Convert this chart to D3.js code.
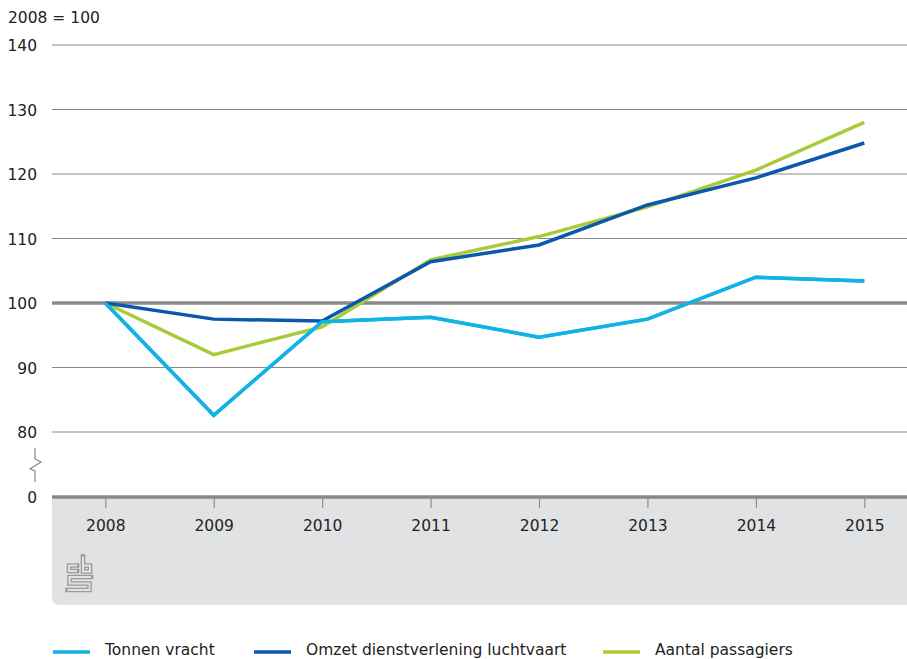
<!DOCTYPE html>
<html>
<head>
<meta charset="utf-8">
<script src="https://cdn.jsdelivr.net/npm/d3@7"></script>
<style>
  body { margin: 0; background: #fff; }
  svg text { font-family: "DejaVu Sans", sans-serif; fill: #222; }
</style>
</head>
<body>
<svg id="chart" width="907" height="659"></svg>
<script>
const years = ["2008", "2009", "2010", "2011", "2012", "2013", "2014", "2015"];
const tonnenVracht = [100, 82.6, 97.1, 97.8, 94.7, 97.5, 104.0, 103.4];
const omzetLuchtvaart = [100, 97.5, 97.2, 106.4, 109.0, 115.2, 119.4, 124.8];
const passagiers = [100, 92.0, 96.3, 106.7, 110.3, 114.9, 120.6, 128.0];
const yTicks = [80, 90, 100, 110, 120, 130, 140];
const seriesNames = ["Tonnen vracht", "Omzet dienstverlening luchtvaart", "Aantal passagiers"];
const seriesColors = ["#10b4e4", "#0a58ac", "#a8cb3a"];

const svg = d3.select("#chart");
const left = 52, right = 907;
const boxColor = "#e1e2e4";

const x = d3.scalePoint().domain(years).range([105.3, 864.3]);
const y = d3.scaleLinear().domain([80, 140]).range([432, 45]);
const zeroY = 497;

// grey footer box under the axis
svg.append("path")
  .attr("d", `M${left},${zeroY} H${right} V605 H${left + 7} Q${left},605 ${left},598 Z`)
  .attr("fill", boxColor);

// gridlines
svg.selectAll(".grid")
  .data(yTicks)
  .enter().append("line")
  .attr("x1", left).attr("x2", right)
  .attr("y1", d => y(d)).attr("y2", d => y(d))
  .attr("stroke", "#8a8a8a")
  .attr("stroke-width", d => d === 100 ? 3.5 : 1.2);

// y labels
svg.selectAll(".ylab")
  .data(yTicks)
  .enter().append("text")
  .attr("x", 37).attr("y", d => y(d) + 6)
  .attr("text-anchor", "end")
  .attr("font-size", 15.5)
  .text(d => d);
svg.append("text").attr("x", 37).attr("y", zeroY + 6)
  .attr("text-anchor", "end").attr("font-size", 15.5).text("0");
svg.append("text").attr("x", 8).attr("y", 23).attr("font-size", 15.5).text("2008 = 100");

// axis break
svg.append("path")
  .attr("d", "M35,448 V459 L41,462 L30,469 L35,471 V482")
  .attr("fill", "none").attr("stroke", "#888").attr("stroke-width", 1.2);

// x axis
svg.append("line")
  .attr("x1", left).attr("x2", right).attr("y1", zeroY).attr("y2", zeroY)
  .attr("stroke", "#888").attr("stroke-width", 3.5);
const xAxis = svg.append("g").attr("transform", `translate(0,${zeroY})`)
  .call(d3.axisBottom(x).tickSize(11).tickPadding(12));
xAxis.select(".domain").remove();
xAxis.selectAll("line").attr("stroke", "#8c8c8c").attr("stroke-width", 1.2);
xAxis.selectAll("text").attr("font-size", 15.5).attr("font-family", "DejaVu Sans, sans-serif").attr("fill", "#222");

// lines
const line = d3.line().x((d, i) => x(years[i])).y(d => y(d));
[[tonnenVracht, 0], [passagiers, 2], [omzetLuchtvaart, 1], [tonnenVracht, 0]].forEach(([s, idx]) => {
  svg.append("path")
    .datum(s)
    .attr("d", line)
    .attr("fill", "none")
    .attr("stroke", seriesColors[idx])
    .attr("stroke-width", 3.5);
});

// cbs logo: thick grey strokes with a thin box-coloured core give the outlined look
const logoParts = [
  "M77,565.5 H69 V571 H77",
  "M83,556.5 V571.5 H90 V565.5 H83",
  "M91,577 H69.5 V583.5 H89.5 V590 H67.5"
];
logoParts.forEach(d => {
  svg.append("path").attr("d", d).attr("fill", "none")
    .attr("stroke", "#9a9a9a").attr("stroke-width", 4.6).attr("stroke-linecap", "square");
  svg.append("path").attr("d", d).attr("fill", "none")
    .attr("stroke", boxColor).attr("stroke-width", 2).attr("stroke-linecap", "butt");
});

// legend
const legendX = [53, 254, 603];
seriesNames.forEach((name, i) => {
  svg.append("line")
    .attr("x1", legendX[i]).attr("x2", legendX[i] + 37)
    .attr("y1", 652).attr("y2", 652)
    .attr("stroke", seriesColors[i]).attr("stroke-width", 3.5);
  svg.append("text")
    .attr("x", legendX[i] + 52).attr("y", 655)
    .attr("font-size", 15.5)
    .text(name);
});
</script>
</body>
</html>
